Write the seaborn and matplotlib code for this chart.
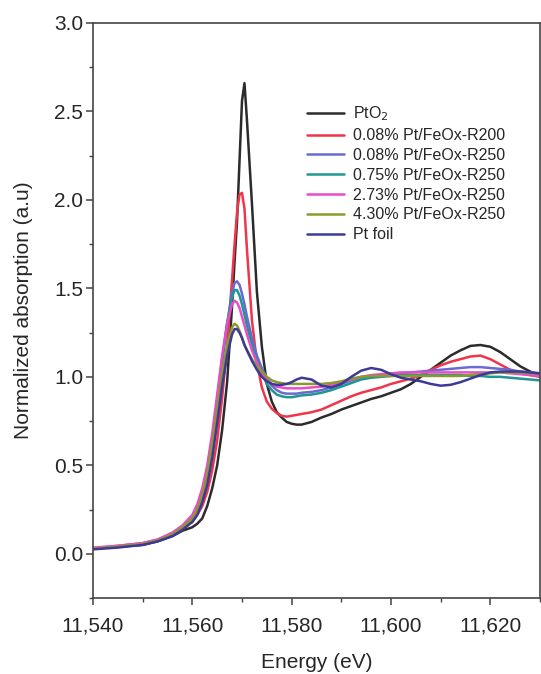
import matplotlib
matplotlib.use("Agg")
import matplotlib.pyplot as plt
import matplotlib.ticker as mticker
import numpy as np
import pandas as pd
import seaborn as sns

energy = [11540, 11545, 11550, 11553, 11556, 11558, 11560, 11561, 11562, 11563,
          11564, 11565, 11566, 11567, 11568, 11568.5, 11569, 11569.5, 11570, 11570.5,
          11571, 11572, 11573, 11574, 11575, 11576, 11577, 11578, 11579, 11580,
          11581, 11582, 11584, 11586, 11588, 11590, 11592, 11594, 11596, 11598,
          11600, 11602, 11604, 11606, 11608, 11610, 11612, 11614, 11616, 11618,
          11620, 11622, 11624, 11626, 11628, 11630]

pto2 = [0.03, 0.04, 0.05, 0.07, 0.10, 0.13, 0.15, 0.17, 0.20, 0.27,
        0.37, 0.50, 0.70, 0.97, 1.40, 1.65, 1.88, 2.22, 2.56, 2.66,
        2.45, 1.98, 1.48, 1.17, 0.96, 0.86, 0.80, 0.77, 0.745, 0.735,
        0.73, 0.73, 0.745, 0.77, 0.79, 0.815, 0.835, 0.855, 0.875, 0.89,
        0.91, 0.93, 0.96, 1.00, 1.04, 1.08, 1.12, 1.15, 1.175, 1.18,
        1.17, 1.14, 1.10, 1.06, 1.03, 1.01]

r200_008 = [0.03, 0.045, 0.06, 0.08, 0.115, 0.15, 0.18, 0.22, 0.27, 0.35,
            0.47, 0.64, 0.88, 1.18, 1.55, 1.75, 1.93, 2.03, 2.04, 1.95,
            1.72, 1.32, 1.08, 0.94, 0.86, 0.82, 0.795, 0.78, 0.775, 0.78,
            0.785, 0.79, 0.80, 0.815, 0.84, 0.865, 0.89, 0.91, 0.925, 0.94,
            0.96, 0.975, 0.99, 1.01, 1.04, 1.065, 1.085, 1.10, 1.115, 1.12,
            1.10, 1.07, 1.04, 1.02, 1.01, 1.00]

r250_008 = [0.03, 0.04, 0.055, 0.075, 0.11, 0.15, 0.20, 0.25, 0.33, 0.45,
            0.62, 0.84, 1.08, 1.30, 1.48, 1.53, 1.54, 1.52, 1.47, 1.41,
            1.34, 1.22, 1.12, 1.05, 0.99, 0.95, 0.925, 0.91, 0.905, 0.905,
            0.905, 0.91, 0.915, 0.925, 0.94, 0.96, 0.98, 0.995, 1.005, 1.01,
            1.015, 1.02, 1.025, 1.03, 1.035, 1.04, 1.045, 1.05, 1.055, 1.055,
            1.05, 1.045, 1.04, 1.03, 1.025, 1.02]

r250_075 = [0.03, 0.04, 0.055, 0.075, 0.11, 0.15, 0.205, 0.26, 0.34, 0.47,
            0.65, 0.87, 1.10, 1.30, 1.45, 1.49, 1.49, 1.46, 1.41, 1.35,
            1.29, 1.18, 1.09, 1.02, 0.96, 0.925, 0.90, 0.89, 0.885, 0.885,
            0.89, 0.895, 0.90, 0.91, 0.925, 0.945, 0.965, 0.985, 0.995, 1.00,
            1.005, 1.01, 1.01, 1.01, 1.01, 1.01, 1.01, 1.01, 1.005, 1.005,
            1.00, 1.00, 0.995, 0.99, 0.985, 0.98]

r250_273 = [0.035, 0.045, 0.06, 0.08, 0.12, 0.16, 0.22, 0.28, 0.37, 0.50,
            0.68, 0.90, 1.12, 1.30, 1.41, 1.43, 1.42, 1.39, 1.34, 1.29,
            1.24, 1.15, 1.08, 1.02, 0.985, 0.96, 0.945, 0.94, 0.935, 0.935,
            0.935, 0.935, 0.94, 0.945, 0.955, 0.97, 0.985, 1.00, 1.01, 1.015,
            1.02, 1.025, 1.025, 1.025, 1.025, 1.025, 1.025, 1.025, 1.025, 1.025,
            1.025, 1.025, 1.02, 1.015, 1.01, 1.005]

r250_430 = [0.03, 0.04, 0.055, 0.075, 0.11, 0.15, 0.20, 0.25, 0.33, 0.45,
            0.62, 0.82, 1.02, 1.18, 1.28, 1.30, 1.29, 1.26, 1.22, 1.18,
            1.15, 1.10, 1.06, 1.03, 1.00, 0.98, 0.97, 0.965, 0.96, 0.96,
            0.96, 0.96, 0.96, 0.96, 0.965, 0.975, 0.99, 1.00, 1.005, 1.005,
            1.005, 1.005, 1.005, 1.005, 1.005, 1.005, 1.005, 1.005, 1.01, 1.015,
            1.02, 1.025, 1.025, 1.025, 1.02, 1.02]

pt_foil = [0.025, 0.035, 0.05, 0.07, 0.10, 0.135, 0.18, 0.22, 0.29, 0.39,
           0.54, 0.74, 0.95, 1.12, 1.24, 1.27, 1.27, 1.25, 1.22, 1.18,
           1.15, 1.09, 1.04, 1.00, 0.975, 0.96, 0.955, 0.955, 0.96, 0.97,
           0.985, 0.995, 0.985, 0.95, 0.94, 0.96, 1.00, 1.035, 1.05, 1.04,
           1.015, 0.995, 0.985, 0.975, 0.96, 0.95, 0.955, 0.97, 0.99, 1.01,
           1.025, 1.03, 1.03, 1.03, 1.025, 1.02]

labels = ["PtO$_2$", "0.08% Pt/FeOx-R200", "0.08% Pt/FeOx-R250",
          "0.75% Pt/FeOx-R250", "2.73% Pt/FeOx-R250", "4.30% Pt/FeOx-R250", "Pt foil"]
series = [pto2, r200_008, r250_008, r250_075, r250_273, r250_430, pt_foil]
colors = ["#2b2b2b", "#f0344a", "#6a6ad2", "#1f9690", "#e94cc8", "#8c9a2c", "#3c3a96"]

frames = []
for lab, vals in zip(labels, series):
    frames.append(pd.DataFrame({"Energy": energy, "Absorption": vals, "Sample": lab}))
df = pd.concat(frames, ignore_index=True)

sns.set_theme(style="ticks")
plt.rcParams["font.family"] = ["Liberation Sans", "DejaVu Sans"]

fig = plt.figure(figsize=(5.41, 6.74), dpi=100)
ax = fig.add_axes([93 / 541, 76 / 674, 447 / 541, 575 / 674])

sns.lineplot(data=df, x="Energy", y="Absorption", hue="Sample", hue_order=labels,
             palette=dict(zip(labels, colors)), linewidth=1.8, ax=ax, legend=False,
             estimator=None, sort=False)

ax.set_xlim(11540, 11630)
ax.set_ylim(-0.25, 3.0)
ax.xaxis.set_major_locator(mticker.MultipleLocator(20))
ax.xaxis.set_minor_locator(mticker.MultipleLocator(10))
ax.yaxis.set_major_locator(mticker.MultipleLocator(0.5))
ax.yaxis.set_minor_locator(mticker.MultipleLocator(0.25))
ax.xaxis.set_major_formatter(mticker.FuncFormatter(lambda v, p: f"{v:,.0f}"))
ax.yaxis.set_major_formatter(mticker.FormatStrFormatter("%.1f"))

for s in ax.spines.values():
    s.set_color("#444444")
    s.set_linewidth(1.2)
ax.tick_params(axis="both", which="major", direction="out", length=5, width=1.1,
               color="#444444", labelsize=15, top=False, right=False)
ax.tick_params(axis="both", which="minor", direction="out", length=3, width=1.0,
               color="#444444", top=False, right=False)
ax.tick_params(axis="x", which="major", pad=8)
ax.tick_params(axis="y", which="major", pad=2)

ax.set_xlabel("Energy (eV)", fontsize=15, labelpad=13)
ax.set_ylabel("Normalized absorption (a.u)", fontsize=15, labelpad=15)

handles = [plt.Line2D([], [], color=c, linewidth=1.8) for c in colors]
ax.legend(handles, labels, loc="upper left", bbox_to_anchor=(0.479, 0.858),
          frameon=False, fontsize=11.5, handlelength=2.3, handletextpad=0.56,
          labelspacing=0.3, borderpad=0, borderaxespad=0)

fig.savefig("out.png", dpi=100)
